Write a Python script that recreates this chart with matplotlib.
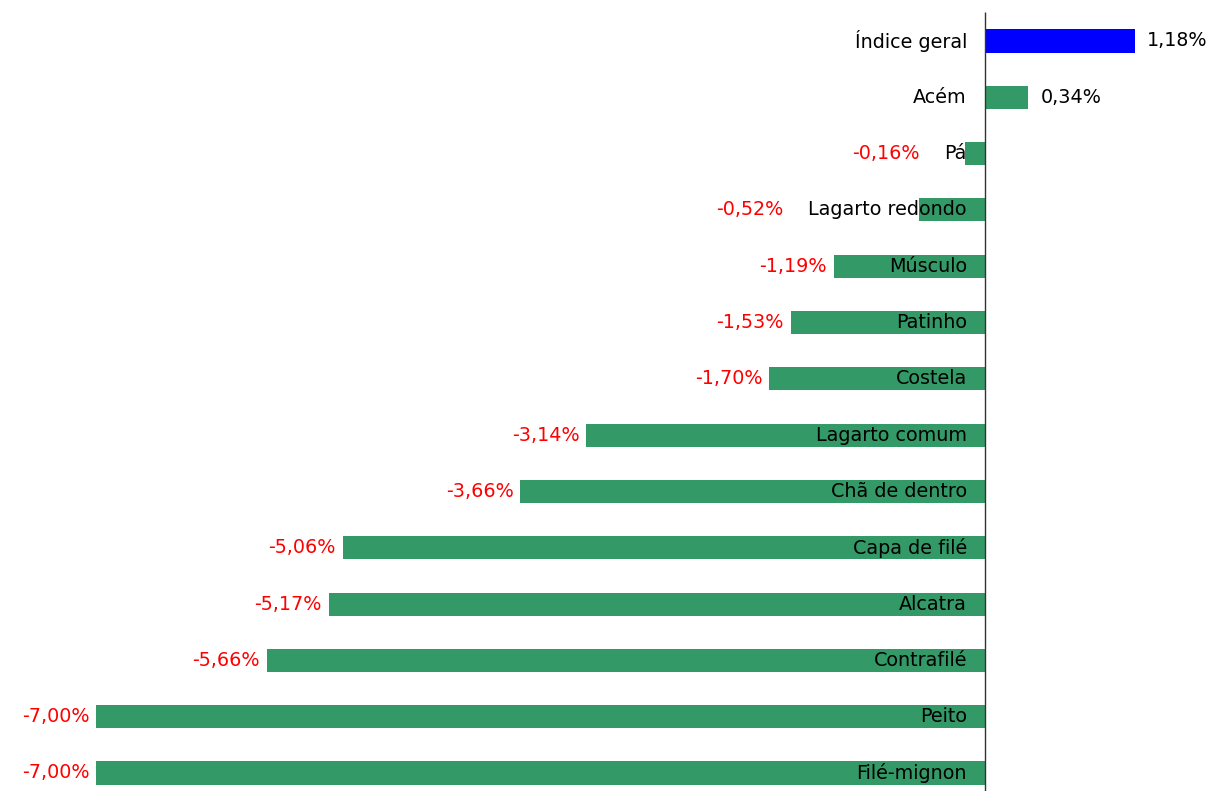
import matplotlib
matplotlib.use("Agg")
import matplotlib.pyplot as plt

categories = ["Índice geral", "Acém", "Pá", "Lagarto redondo", "Músculo", "Patinho",
              "Costela", "Lagarto comum", "Chã de dentro", "Capa de filé", "Alcatra",
              "Contrafilé", "Peito", "Filé-mignon"]
values = [1.18, 0.34, -0.16, -0.52, -1.19, -1.53, -1.70, -3.14, -3.66, -5.06, -5.17,
          -5.66, -7.00, -7.00]
value_labels = ["1,18%", "0,34%", "-0,16%", "-0,52%", "-1,19%", "-1,53%", "-1,70%",
                "-3,14%", "-3,66%", "-5,06%", "-5,17%", "-5,66%", "-7,00%", "-7,00%"]

GREEN = "#339966"
BLUE = "#0000FF"
FONT = "DejaVu Sans"
FS = 13.8

fig = plt.figure(figsize=(12.10, 7.91), dpi=100)
ax = fig.add_axes([0, 0, 1, 1])
ax.set_axis_off()

n = len(categories)
ypos = list(range(n))
colors = [BLUE if i == 0 else GREEN for i in range(n)]
ax.barh(ypos, values, height=0.41, color=colors, zorder=2)

ax.set_xlim(-7.76, 1.773)
ax.set_ylim(13.32, -0.728)
ax.vlines(0, -0.52, 13.32, color="#333333", lw=1.0, zorder=3)

fig.canvas.draw()
renderer = fig.canvas.get_renderer()
to_data = ax.transData.inverted()

cat_texts = []
for i, c in enumerate(categories):
    t = ax.annotate(c, xy=(0, i), xytext=(-13, 0), textcoords="offset points",
                    ha="right", va="center", fontsize=FS, family=FONT, color="black",
                    zorder=4)
    cat_texts.append(t)

fig.canvas.draw()
for i, (v, lab) in enumerate(zip(values, value_labels)):
    if v >= 0:
        ax.annotate(lab, xy=(v, i), xytext=(9, 0), textcoords="offset points",
                    ha="left", va="center", fontsize=FS, family=FONT, color="black")
    else:
        bb = cat_texts[i].get_window_extent(renderer)
        bar_left = ax.transData.transform((v, i))[0]
        if bb.x0 < bar_left:
            xpix = bb.x0 - 25
        else:
            xpix = bar_left - 7
        xd = to_data.transform((xpix, 0))[0]
        ax.text(xd, i, lab, ha="right", va="center", fontsize=FS, family=FONT,
                color="#FF0000")

fig.savefig("out.png", dpi=100, facecolor="white")
